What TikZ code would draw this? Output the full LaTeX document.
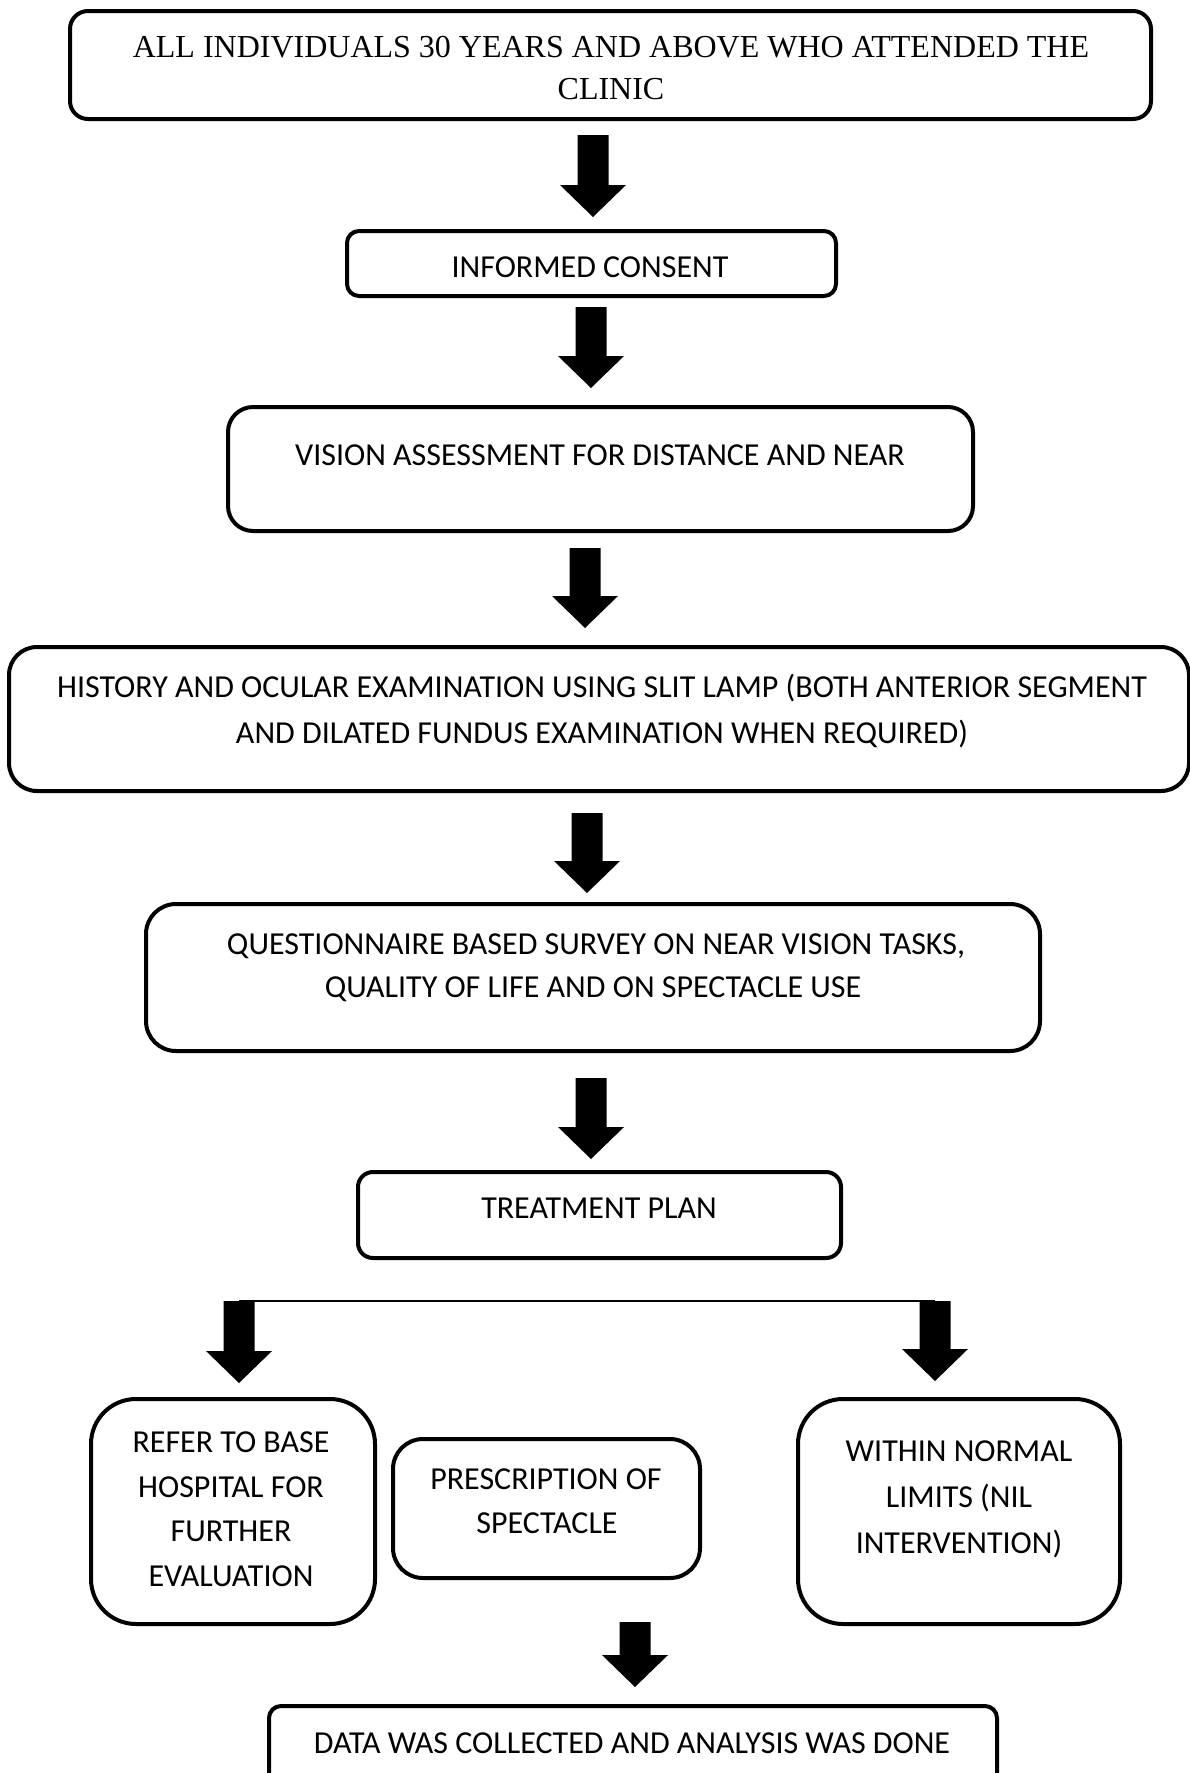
\documentclass[tikz,border=0pt]{standalone}
\usepackage{fontspec}
\setmainfont{Carlito}
\newfontfamily\serifTNR{Liberation Serif}
\usetikzlibrary{calc}
\tikzset{
  box/.style={draw, line width=4pt, rounded corners=#1, inner sep=0pt},
  box/.default=15pt,
  lbl/.style={font=\fontsize{32}{32}\selectfont, anchor=base, inner sep=0pt},
  serl/.style={font=\serifTNR\fontsize{32}{32}\selectfont, anchor=base, inner sep=0pt},
  blockarrow/.style={to path={
    ($(\tikztostart)+(-15.5pt,0pt)$) -- ($(\tikztotarget)+(-15.5pt,32pt)$) --
    ($(\tikztotarget)+(-33pt,32pt)$) -- (\tikztotarget) --
    ($(\tikztotarget)+(33pt,32pt)$) -- ($(\tikztotarget)+(15.5pt,32pt)$) --
    ($(\tikztostart)+(15.5pt,0pt)$) -- cycle}},
  branch/.style={line width=1.5pt}
}
\begin{document}
\begin{tikzpicture}[x=1pt,y=-1pt]
\useasboundingbox (0,0) rectangle (1190,1773);
\clip (0,0) rectangle (1190,1773);
\fill[white] (0,0) rectangle (1190,1773);

% boxes
\node[box=18pt, minimum width=1081pt, minimum height=108pt] (b1) at (610.5,65) {};
\node[box=12pt, minimum width=489pt, minimum height=65pt] (b2) at (591.5,263.5) {};
\node[box=25pt, minimum width=745pt, minimum height=124pt] (b3) at (600.5,469) {};
\node[box=28pt, minimum width=1180pt, minimum height=144pt] (b4) at (599,719) {};
\node[box=30pt, minimum width=894pt, minimum height=147pt] (b5) at (593,977.5) {};
\node[box=15pt, minimum width=483pt, minimum height=86pt] (b6) at (599.5,1215) {};
\node[box=45pt, minimum width=284pt, minimum height=225pt] (b7) at (233,1511.5) {};
\node[box=30pt, minimum width=307pt, minimum height=139pt] (b8) at (546.5,1508.5) {};
\node[box=45pt, minimum width=322pt, minimum height=225pt] (b9) at (959,1511.5) {};
\node[box=12pt, minimum width=728pt, minimum height=122pt] (b10) at (633,1767) {};

% texts
\node[serl] (t1a) at (611,57) {ALL INDIVIDUALS 30 YEARS AND ABOVE WHO ATTENDED THE};
\node[serl] (t1b) at (611,99.5) {CLINIC};
\node[lbl] (t2) at (590,277) {INFORMED CONSENT};
\node[lbl] (t3) at (600,465) {VISION ASSESSMENT FOR DISTANCE AND NEAR};
\node[lbl] (t4a) at (602,697) {HISTORY AND OCULAR EXAMINATION USING SLIT LAMP (BOTH ANTERIOR SEGMENT};
\node[lbl] (t4b) at (602,743) {AND DILATED FUNDUS EXAMINATION WHEN REQUIRED)};
\node[lbl] (t5a) at (596,954) {QUESTIONNAIRE BASED SURVEY ON NEAR VISION TASKS,};
\node[lbl] (t5b) at (593,997) {QUALITY OF LIFE AND ON SPECTACLE USE};
\node[lbl] (t6) at (599,1218) {TREATMENT PLAN};
\node[lbl] (t7a) at (231,1452) {REFER TO BASE};
\node[lbl] (t7b) at (231,1497) {HOSPITAL FOR};
\node[lbl] (t7c) at (231,1541) {FURTHER};
\node[lbl] (t7d) at (231,1586) {EVALUATION};
\node[lbl] (t8a) at (546,1489) {PRESCRIPTION OF};
\node[lbl] (t8b) at (547,1533) {SPECTACLE};
\node[lbl] (t9a) at (959,1461) {WITHIN NORMAL};
\node[lbl] (t9b) at (959,1507) {LIMITS (NIL};
\node[lbl] (t9c) at (959,1553) {INTERVENTION)};
\node[lbl] (t10) at (632,1753) {DATA WAS COLLECTED AND ANALYSIS WAS DONE};

% arrow coordinates
\coordinate (a1s) at (593,135);  \coordinate (a1e) at (593,217);
\coordinate (a2s) at (591,307);  \coordinate (a2e) at (591,388);
\coordinate (a3s) at (585,548);  \coordinate (a3e) at (585,628);
\coordinate (a4s) at (587,813);  \coordinate (a4e) at (587,893);
\coordinate (a5s) at (591,1078); \coordinate (a5e) at (591,1159);
\coordinate (aLs) at (239,1301); \coordinate (aLe) at (239,1383);
\coordinate (aRs) at (935,1301); \coordinate (aRe) at (935,1381);
\coordinate (a6s) at (635,1622); \coordinate (a6e) at (635,1687);

\draw[branch] (aLs) -- (aRs);

\fill (a1s) to[blockarrow] (a1e);
\fill (a2s) to[blockarrow] (a2e);
\fill (a3s) to[blockarrow] (a3e);
\fill (a4s) to[blockarrow] (a4e);
\fill (a5s) to[blockarrow] (a5e);
\fill (aLs) to[blockarrow] (aLe);
\fill (aRs) to[blockarrow] (aRe);
\fill (a6s) to[blockarrow] (a6e);
\end{tikzpicture}
\end{document}
